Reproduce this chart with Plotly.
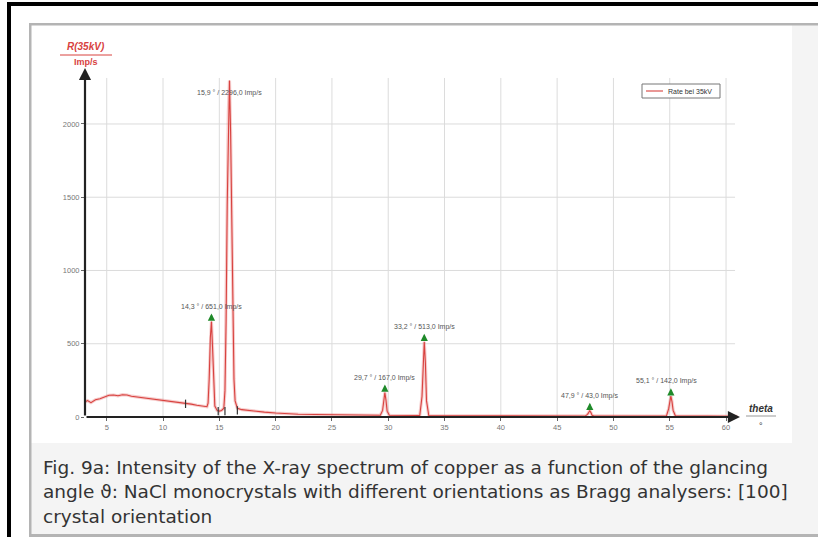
import plotly.graph_objects as go

# ---------------- data ----------------
theta = [3.0, 3.3, 3.6, 4.0, 4.4, 4.8, 5.2, 5.6, 6.0, 6.4, 6.8, 7.2, 7.6, 8.0, 8.5, 9.0, 9.5,
         10.0, 10.5, 11.0, 11.5, 12.0, 12.5, 13.0, 13.5, 13.9, 14.0, 14.1, 14.2, 14.3, 14.4,
         14.5, 14.6, 14.8, 15.0, 15.2, 15.4, 15.5, 15.6, 15.7, 15.8, 15.9, 16.0, 16.1, 16.2,
         16.3, 16.4, 16.6, 17.0, 17.5, 18.0, 19.0, 20.0, 21.0, 22.0, 23.5, 25.0, 27.0, 29.3,
         29.5, 29.6, 29.7, 29.8, 29.9, 30.1, 31.5, 32.8, 33.0, 33.1, 33.2, 33.3, 33.4, 33.6,
         36.0, 40.0, 44.0, 47.5, 47.7, 47.8, 47.9, 48.0, 48.1, 48.3, 51.0, 54.7, 54.9, 55.0,
         55.1, 55.2, 55.3, 55.5, 58.0, 60.0, 61.0]
rate = [100, 112, 98, 118, 125, 138, 148, 150, 145, 152, 150, 142, 138, 132, 128, 124, 118,
        115, 110, 106, 100, 95, 88, 80, 74, 70, 95, 260, 540, 651, 470,
        190, 75, 45, 40, 45, 60, 180, 650, 1450, 2080, 2296, 1950, 1250, 620,
        260, 110, 60, 50, 45, 40, 33, 27, 22, 19, 17, 15, 13, 12,
        45, 120, 167, 115, 40, 12, 11, 10, 140, 400, 513, 370, 110, 10,
        9, 8, 7, 7, 18, 36, 43, 30, 12, 7, 6, 6, 55, 120,
        142, 105, 45, 8, 6, 5, 5]

peak_theta = [14.3, 15.9, 29.7, 33.2, 47.9, 55.1]
peak_rate = [651, 2296, 167, 513, 43, 142]
peak_labels = ["14,3 ° / 651,0 Imp/s", "15,9 ° / 2296,0 Imp/s", "29,7 ° / 167,0 Imp/s",
               "33,2 ° / 513,0 Imp/s", "47,9 ° / 43,0 Imp/s", "55,1 ° / 142,0 Imp/s"]

mark_theta = [12.0, 14.9, 15.5, 16.6]
mark_rate = [90, 40, 40, 45]

x_ticks = [5, 10, 15, 20, 25, 30, 35, 40, 45, 50, 55, 60]
y_ticks = [0, 500, 1000, 1500, 2000]
series_name = "Rate bei 35kV"
caption_lines = [
    "Fig. 9a: Intensity of the X-ray spectrum of copper as a function of the glancing",
    "angle ϑ: NaCl monocrystals with different orientations as Bragg analysers: [100]",
    "crystal orientation",
]

# ---------------- layout geometry ----------------
FW, FH = 818, 537
L, R, T, B = 85, 740, 68, 417      # plot-area pixel box
PW, PH = R - L, B - T
XR = [3.07, 61.24]
YR = [0, 2382]


def px(x):
    return (x - L) / PW


def py(y):
    return (B - y) / PH


RED = "#d8423f"

fig = go.Figure()
fig.add_trace(go.Scatter(x=theta, y=rate, mode="lines", showlegend=False, hoverinfo="skip",
                         line=dict(color="rgba(230,110,110,0.35)", width=3.2)))
fig.add_trace(go.Scatter(x=theta, y=rate, mode="lines", name=series_name, showlegend=False,
                         line=dict(color=RED, width=1.1)))
fig.add_trace(go.Scatter(x=mark_theta, y=mark_rate, mode="markers", showlegend=False,
                         marker=dict(symbol="line-ns-open", size=6, color="#333",
                                     line=dict(color="#333", width=1.2))))

shapes = []
# backgrounds / frames
shapes.append(dict(type="rect", xref="paper", yref="paper", x0=px(31), x1=px(FW), y0=py(443), y1=py(535),
                   fillcolor="#f4f4f4", line=dict(width=0), layer="below"))
shapes.append(dict(type="rect", xref="paper", yref="paper", x0=px(792), x1=px(FW), y0=py(25), y1=py(443),
                   fillcolor="#f4f4f4", line=dict(width=0), layer="below"))
shapes.append(dict(type="rect", xref="paper", yref="paper", x0=px(29), x1=px(FW), y0=py(23), y1=py(25.5),
                   fillcolor="#b4b4b4", line=dict(width=0)))
shapes.append(dict(type="rect", xref="paper", yref="paper", x0=px(29), x1=px(31.5), y0=py(23), y1=py(FH),
                   fillcolor="#b4b4b4", line=dict(width=0)))
shapes.append(dict(type="rect", xref="paper", yref="paper", x0=px(29), x1=px(FW), y0=py(534), y1=py(FH),
                   fillcolor="#b4b4b4", line=dict(width=0)))
shapes.append(dict(type="rect", xref="paper", yref="paper", x0=px(7), x1=px(FW), y0=py(2), y1=py(6),
                   fillcolor="#000", line=dict(width=0)))
shapes.append(dict(type="rect", xref="paper", yref="paper", x0=px(7), x1=px(11), y0=py(2), y1=py(FH),
                   fillcolor="#000", line=dict(width=0)))
# grid
for xv in x_ticks:
    shapes.append(dict(type="line", xref="x", yref="y", x0=xv, x1=xv, y0=0, y1=2314,
                       line=dict(color="#dcdcdc", width=1), layer="below"))
for yv in y_ticks[1:]:
    shapes.append(dict(type="line", xref="x", yref="y", x0=XR[0], x1=60.8, y0=yv, y1=yv,
                       line=dict(color="#dcdcdc", width=1), layer="below"))
# title underlines
shapes.append(dict(type="line", xref="paper", yref="paper", x0=px(60), x1=px(112), y0=py(55), y1=py(55),
                   line=dict(color=RED, width=1)))
shapes.append(dict(type="line", xref="paper", yref="paper", x0=px(746), x1=px(776), y0=py(416), y1=py(416),
                   line=dict(color="#999", width=1)))
# legend box (manual)
shapes.append(dict(type="rect", xref="paper", yref="paper", x0=px(642), x1=px(720), y0=py(84), y1=py(98),
                   fillcolor="white", line=dict(color="#777", width=1)))
shapes.append(dict(type="line", xref="paper", yref="paper", x0=px(646), x1=px(663), y0=py(91), y1=py(91),
                   line=dict(color=RED, width=1.1)))

ann = []
# axes with arrows
ann.append(dict(x=XR[1], y=0, ax=XR[0], ay=0, xref="x", yref="y", axref="x", ayref="y", text="",
                showarrow=True, arrowhead=2, arrowsize=1.1, arrowwidth=2.2, arrowcolor="#222"))
ann.append(dict(x=XR[0], y=YR[1], ax=XR[0], ay=0, xref="x", yref="y", axref="x", ayref="y", text="",
                showarrow=True, arrowhead=2, arrowsize=1.1, arrowwidth=2.2, arrowcolor="#222"))
# peak labels and green markers
for t, r, lab in zip(peak_theta, peak_rate, peak_labels):
    big = r > 2000
    ann.append(dict(x=t, y=r, xref="x", yref="y", text=lab, showarrow=False,
                    xanchor="center", yanchor="middle",
                    yshift=-12 if big else 15, xshift=-4 if t > 55 else 0,
                    font=dict(family="Liberation Sans", size=7, color="#555")))
    if not big:
        ann.append(dict(x=t, y=r, xref="x", yref="y", text="", showarrow=True, ax=0, ay=6,
                        yshift=8, arrowhead=2, arrowsize=0.9, arrowwidth=1.6, arrowcolor="#1f8a2a"))
# legend text
ann.append(dict(x=px(666), y=py(91), xref="paper", yref="paper", text=series_name,
                xanchor="left", yanchor="middle", showarrow=False,
                font=dict(family="Liberation Sans", size=7, color="#333")))
# axis titles
ann.append(dict(x=px(86), y=py(47), xref="paper", yref="paper", text="<b><i>R(35kV)</i></b>",
                xanchor="center", yanchor="middle",
                showarrow=False, font=dict(family="Liberation Sans", size=10, color=RED)))
ann.append(dict(x=px(86), y=py(62), xref="paper", yref="paper", text="<b>Imp/s</b>",
                xanchor="center", yanchor="middle",
                showarrow=False, font=dict(family="Liberation Sans", size=9, color=RED)))
ann.append(dict(x=px(761), y=py(408), xref="paper", yref="paper", text="<b><i>theta</i></b>",
                xanchor="center", yanchor="middle",
                showarrow=False, font=dict(family="Liberation Sans", size=10, color="#333")))
ann.append(dict(x=px(761), y=py(426), xref="paper", yref="paper", text="°",
                xanchor="center", yanchor="middle",
                showarrow=False, font=dict(family="Liberation Sans", size=9, color="#333")))
# caption
for i, line in enumerate(caption_lines):
    ann.append(dict(x=px(41), y=py(467.5 + 24.3 * i), xref="paper", yref="paper", text=line,
                    xanchor="left", yanchor="middle", showarrow=False,
                    font=dict(family="DejaVu Sans", size=18.5, color="#333")))

fig.update_layout(
    width=FW, height=FH,
    margin=dict(l=L, r=FW - R, t=T, b=FH - B, pad=0),
    paper_bgcolor="white", plot_bgcolor="white",
    shapes=shapes, annotations=ann,
    showlegend=False,
    xaxis=dict(range=XR, tickvals=x_ticks, showgrid=False, zeroline=False, showline=False,
               ticks="outside", ticklen=3, tickcolor="#666",
               tickfont=dict(family="Liberation Sans", size=7.5, color="#777")),
    yaxis=dict(range=YR, tickvals=y_ticks, showgrid=False, zeroline=False, showline=False,
               ticks="outside", ticklen=3, tickcolor="#666",
               tickfont=dict(family="Liberation Sans", size=7.5, color="#777")),
)

fig.write_html("out.html")
